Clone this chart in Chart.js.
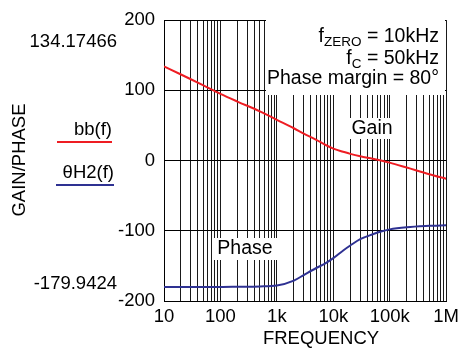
<!DOCTYPE html>
<html>
<head>
<meta charset="utf-8">
<script src="https://cdn.jsdelivr.net/npm/chart.js@4/dist/chart.umd.min.js"></script>
<style>
  html, body { margin: 0; padding: 0; background: #fff; }
  #wrap { width: 464px; height: 349px; }
</style>
</head>
<body>
<div id="wrap"><canvas id="bode"></canvas></div>
<script>
// Frequencies (Hz) sampled along the curves
const freqs = [10, 20, 50, 100, 200, 500, 1000, 2000, 3000, 5000, 7000, 10000, 15000, 20000, 30000, 50000, 70000, 100000, 200000, 500000, 1000000];
// bb(f) gain values
const gain  = [134.2, 122.5, 107, 95, 84, 70, 58, 46, 38.5, 29.5, 23, 17, 12.5, 9.5, 6, 2.5, 0, -3, -10, -19.5, -26];
// θH2(f) phase values
const phase = [-180, -180, -180, -180, -179.7, -179.2, -178, -171, -163, -153, -147, -139, -128, -121, -112, -105, -101, -98, -95, -93, -92];

const yTicks = [-200, -100, 0, 100, 200];
const decadeLabels = { 10: '10', 100: '100', 1000: '1k', 10000: '10k', 100000: '100k', 1000000: '1M' };

const RED = '#ee1d23';
const BLUE = '#2e3192';
const FONT = '"Liberation Sans", Arial, sans-serif';

Chart.defaults.font.family = FONT;
Chart.defaults.color = '#000';

function toPoints(ys) {
    return freqs.map((f, i) => ({ x: f, y: ys[i] }));
}

// Text, legend and label boxes drawn straight onto the canvas
const annotations = {
    id: 'annotations',
    beforeDatasetsDraw(chart) {
        const ctx = chart.ctx;
        ctx.save();
        ctx.fillStyle = '#fff';
        ctx.fillRect(266, 20, 179, 75);   // parameter box
        ctx.fillRect(349, 118, 47, 21);   // Gain box
        ctx.fillRect(213, 238, 65, 22);   // Phase box
        ctx.restore();
    },
    afterDraw(chart) {
        const ctx = chart.ctx;
        ctx.save();
        ctx.fillStyle = '#000';
        ctx.textBaseline = 'middle';

        // parameter box text, right aligned with subscripts
        const big = '19.5px ' + FONT;
        const small = '13.5px ' + FONT;
        function subLine(right, y, main, sub, rest) {
            ctx.font = big;
            const wRest = ctx.measureText(rest).width;
            ctx.font = small;
            const wSub = ctx.measureText(sub).width;
            ctx.font = big;
            const wMain = ctx.measureText(main).width;
            let x = right - wRest - wSub - wMain;
            ctx.textAlign = 'left';
            ctx.fillText(main, x, y);
            x += wMain;
            ctx.font = small;
            ctx.fillText(sub, x, y + 5);
            x += wSub;
            ctx.font = big;
            ctx.fillText(rest, x, y);
        }
        subLine(439, 37, 'f', 'ZERO', ' = 10kHz');
        subLine(439, 59, 'f', 'C', ' = 50kHz');
        ctx.font = big;
        ctx.textAlign = 'right';
        ctx.fillText('Phase margin = 80°', 439, 79);

        ctx.textAlign = 'center';
        ctx.fillText('Gain', 372, 129);
        ctx.fillText('Phase', 245, 249);

        // left side labels
        ctx.font = '18.5px ' + FONT;
        ctx.textAlign = 'right';
        ctx.fillText('134.17466', 117, 42);
        ctx.fillText('-179.9424', 117, 284);
        ctx.fillText('bb(f)', 112, 130);
        ctx.fillText('θH2(f)', 114, 173);

        ctx.lineWidth = 2;
        ctx.strokeStyle = RED;
        ctx.beginPath(); ctx.moveTo(57, 142); ctx.lineTo(112, 142); ctx.stroke();
        ctx.strokeStyle = BLUE;
        ctx.beginPath(); ctx.moveTo(56, 185); ctx.lineTo(114, 185); ctx.stroke();

        ctx.textAlign = 'center';
        ctx.fillText('FREQUENCY', 321, 339);

        ctx.translate(20, 160);
        ctx.rotate(-Math.PI / 2);
        ctx.fillText('GAIN/PHASE', 0, 0);
        ctx.restore();
    }
};

new Chart(document.getElementById('bode').getContext('2d'), {
    type: 'line',
    data: {
        datasets: [
            {
                label: 'bb(f)',
                data: toPoints(gain),
                borderColor: RED,
                borderWidth: 2,
                pointRadius: 0,
                cubicInterpolationMode: 'monotone'
            },
            {
                label: 'θH2(f)',
                data: toPoints(phase),
                borderColor: BLUE,
                borderWidth: 2,
                pointRadius: 0,
                cubicInterpolationMode: 'monotone'
            }
        ]
    },
    options: {
        responsive: true,
        maintainAspectRatio: false,
        animation: false,
        layout: { padding: { top: 17, right: 16, left: 0, bottom: 0 } },
        scales: {
            x: {
                type: 'logarithmic',
                min: 10,
                max: 1000000,
                afterBuildTicks(scale) {
                    const ticks = [];
                    for (let d = 10; d < 1000000; d *= 10) {
                        for (let m = 1; m < 10; m++) ticks.push({ value: d * m });
                    }
                    ticks.push({ value: 1000000 });
                    scale.ticks = ticks;
                },
                afterFit(scale) { scale.height = 48; },
                grid: { color: '#1a1a1a', lineWidth: 1, drawTicks: false },
                border: { color: '#000', width: 1 },
                ticks: {
                    autoSkip: false,
                    maxRotation: 0,
                    padding: 5,
                    font: { size: 18.5 },
                    callback: (v) => decadeLabels[v] || ''
                }
            },
            y: {
                min: -200,
                max: 200,
                afterBuildTicks(scale) {
                    scale.ticks = yTicks.map(v => ({ value: v }));
                },
                afterFit(scale) { scale.width = 164; },
                grid: { color: '#000', lineWidth: 1, drawTicks: false },
                border: { color: '#000', width: 1 },
                ticks: { padding: 9, font: { size: 18.5 } }
            }
        },
        plugins: {
            legend: { display: false },
            tooltip: { enabled: false }
        }
    },
    plugins: [annotations]
});
</script>
</body>
</html>
